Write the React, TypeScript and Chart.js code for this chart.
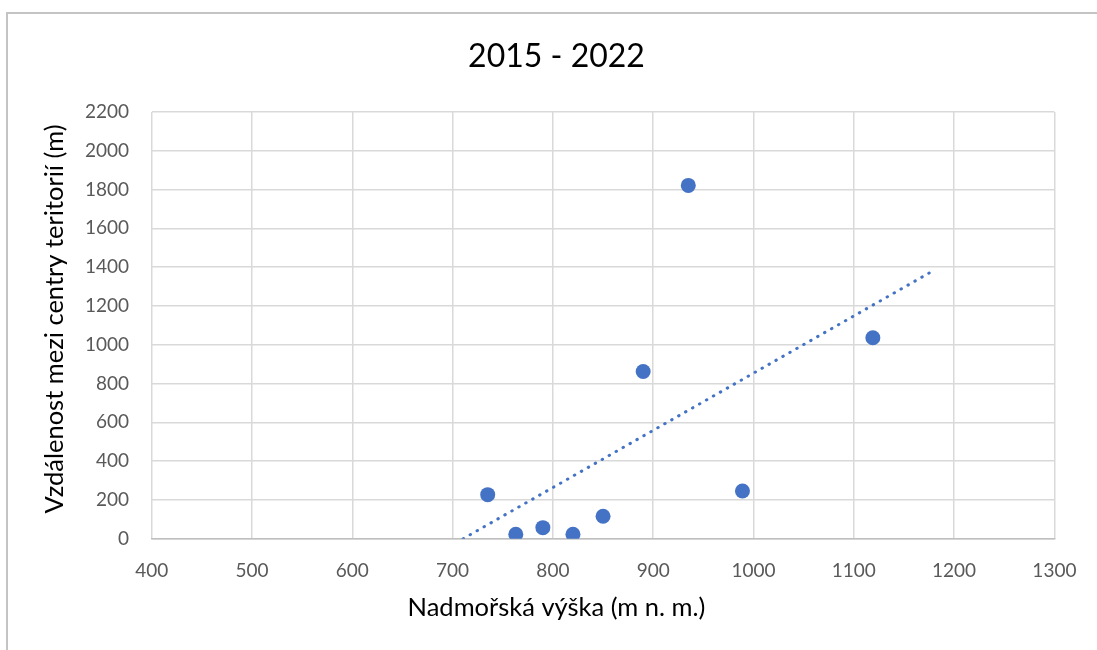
import React, { useEffect, useRef } from "react";
import { Chart, registerables } from "chart.js";

Chart.register(...registerables);

// ---- data ----
const ELEVATION = [735, 763, 790, 820, 850, 890, 935, 989, 1119];
const DISTANCE = [227, 23, 57, 23, 116, 862, 1821, 246, 1036];
const X_MIN = 400;
const X_MAX = 1300;
const X_STEP = 100;
const Y_MIN = 0;
const Y_MAX = 2200;
const Y_STEP = 200;
const TREND_FORWARD = 57; // trendline forecast (x units)
const TITLE = "2015 - 2022";
const X_TITLE = "Nadmořská výška (m n. m.)";
const Y_TITLE = "Vzdálenost mezi centry teritorií (m)";

const FONT = "Lato, 'Open Sans', 'Noto Sans', sans-serif";
const BLUE = "#4472C4";

function linearTrend(xs: number[], ys: number[]) {
  const n = xs.length;
  const mx = xs.reduce((a, b) => a + b, 0) / n;
  const my = ys.reduce((a, b) => a + b, 0) / n;
  let sxy = 0;
  let sxx = 0;
  for (let i = 0; i < n; i++) {
    sxy += (xs[i] - mx) * (ys[i] - my);
    sxx += (xs[i] - mx) * (xs[i] - mx);
  }
  const slope = sxy / sxx;
  const intercept = my - slope * mx;
  const xZero = -intercept / slope;
  const xStart = Math.max(Math.min(...xs) - TREND_FORWARD, xZero);
  const xEnd = Math.max(...xs) + TREND_FORWARD;
  return [
    { x: xStart, y: slope * xStart + intercept },
    { x: xEnd, y: slope * xEnd + intercept },
  ];
}

// axis titles centred on the whole chart object (as in the original)
const axisTitles = {
  id: "axisTitles",
  afterDraw(chart: any) {
    const ctx = chart.ctx;
    ctx.save();
    ctx.fillStyle = "#000000";
    ctx.textAlign = "center";
    ctx.textBaseline = "middle";
    ctx.font = `25.5px ${FONT}`;
    ctx.fillText(X_TITLE, 556.5, 607.5);
    ctx.translate(55, 319);
    ctx.rotate(-Math.PI / 2);
    ctx.fillText(Y_TITLE, 0, 0);
    ctx.restore();
  },
};

export default function App() {
  const ref = useRef<HTMLCanvasElement | null>(null);

  useEffect(() => {
    if (!ref.current) return;
    const points = ELEVATION.map((x, i) => ({ x, y: DISTANCE[i] }));
    const trend = linearTrend(ELEVATION, DISTANCE);

    const chart = new Chart(ref.current, {
      type: "scatter",
      data: {
        datasets: [
          {
            label: "data",
            data: points,
            backgroundColor: BLUE,
            borderWidth: 0,
            pointRadius: 7.5,
            pointHoverRadius: 7.5,
            order: 1,
          },
          {
            label: "trend",
            data: trend,
            showLine: true,
            borderColor: BLUE,
            borderWidth: 3,
            borderDash: [0.5, 7.5],
            borderCapStyle: "round",
            pointRadius: 0,
            pointHoverRadius: 0,
            fill: false,
            order: 2,
          } as any,
        ],
      },
      plugins: [axisTitles],
      options: {
        animation: false,
        responsive: false,
        devicePixelRatio: 1,
        layout: { padding: { left: 0, right: 0, top: 0, bottom: 0 } },
        plugins: {
          legend: { display: false },
          tooltip: { enabled: false },
          title: {
            display: true,
            text: TITLE,
            color: "#000000",
            font: { family: FONT, size: 32, weight: "normal", lineHeight: 1.2 },
            padding: { top: 37.5, bottom: 36 },
          },
        },
        scales: {
          x: {
            type: "linear",
            min: X_MIN,
            max: X_MAX,
            afterFit: (scale: any) => {
              scale.height = 111.3;
            },
            ticks: {
              stepSize: X_STEP,
              color: "#595959",
              font: { family: FONT, size: 19, lineHeight: 1.2 },
              padding: 21,
              maxRotation: 0,
              callback: (v: any) => String(v),
            },
            grid: { color: "#d9d9d9", lineWidth: 1.5, drawTicks: false },
            border: { display: true, color: "#bfbfbf", width: 1.5 },
            title: { display: false },
          },
          y: {
            type: "linear",
            min: Y_MIN,
            max: Y_MAX,
            afterFit: (scale: any) => {
              scale.width = 151.7;
            },
            ticks: {
              stepSize: Y_STEP,
              color: "#595959",
              font: { family: FONT, size: 19, lineHeight: 1.2 },
              padding: 22.7,
              callback: (v: any) => String(v),
            },
            grid: { color: "#d9d9d9", lineWidth: 1.5, drawTicks: false },
            border: { display: false },
            title: { display: false },
          },
          spacer: {
            type: "linear",
            position: "right",
            display: true,
            afterFit: (scale: any) => {
              scale.width = 58.6;
            },
            ticks: { display: false },
            grid: { display: false, drawTicks: false },
            border: { display: false },
          },
        },
      } as any,
    });
    return () => chart.destroy();
  }, []);

  return (
    <div
      style={{
        position: "fixed",
        left: 0,
        top: 0,
        width: 1097,
        height: 650,
        overflow: "hidden",
        background: "#ffffff",
      }}
    >
      <div
        style={{
          position: "absolute",
          left: 6,
          top: 12,
          width: 1110,
          height: 700,
          border: "2px solid #c4c4c4",
          boxSizing: "border-box",
        }}
      />
      <canvas
        ref={ref}
        width={1113}
        height={650}
        style={{ position: "absolute", left: 0, top: 0, width: 1113, height: 650 }}
      />
    </div>
  );
}
